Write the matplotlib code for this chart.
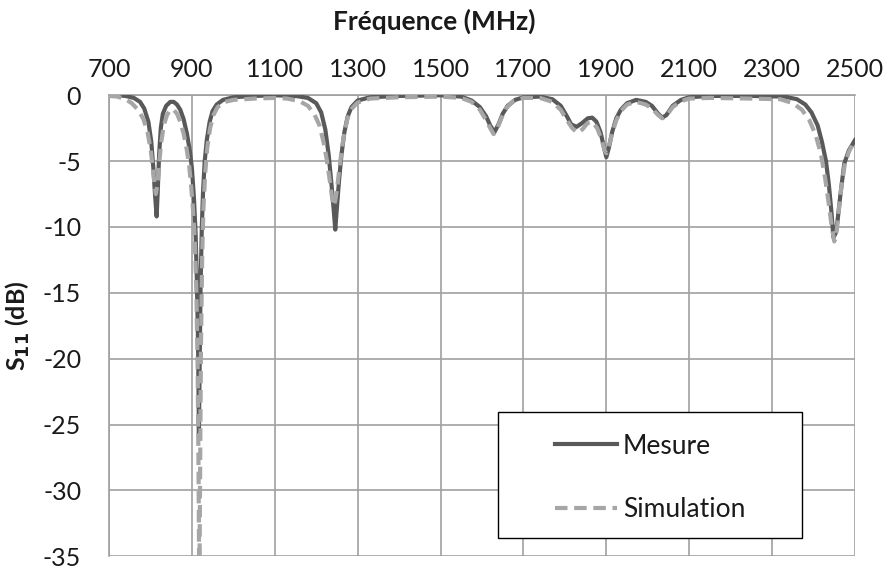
import matplotlib.pyplot as plt
from matplotlib.lines import Line2D
from matplotlib.patches import Rectangle

plt.rcParams["font.family"] = ["Lato", "DejaVu Sans"]
plt.rcParams["axes.unicode_minus"] = False

# Mesure
f_mes = [700, 720, 740, 760, 775, 785, 795, 802, 807, 811, 815, 818, 821, 825, 830,
         838, 848, 856, 864, 872, 880, 888, 895, 900, 905, 909, 912, 915, 917, 919,
         921, 924, 927, 931, 936, 943, 950, 960, 975, 1000, 1050, 1100, 1150, 1180,
         1200, 1212, 1222, 1230, 1237, 1243, 1246, 1250, 1255, 1261, 1268, 1276, 1285,
         1300, 1330, 1400, 1500, 1550, 1575, 1595, 1610, 1620, 1630, 1640, 1650, 1662,
         1680, 1700, 1740, 1770, 1790, 1805, 1815, 1828, 1842, 1855, 1866, 1876, 1886,
         1894, 1900, 1906, 1914, 1924, 1935, 1950, 1972, 1995, 2010, 2025, 2035, 2045,
         2060, 2080, 2100, 2150, 2250, 2330, 2360, 2380, 2395, 2410, 2420, 2430, 2437,
         2443, 2448, 2453, 2458, 2465, 2474, 2485, 2500]
s_mes = [0, 0, -0.05, -0.2, -0.5, -1.0, -2.0, -3.5, -5.5, -7.5, -9.2, -7.0, -4.5, -2.5, -1.4,
         -0.8, -0.5, -0.5, -0.7, -1.1, -1.8, -2.9, -4.2, -5.5, -7.8, -10.5, -14, -19, -25.8, -20,
         -14.5, -10, -7.3, -5, -3.4, -2.0, -1.2, -0.7, -0.35, -0.15, -0.05, 0, -0.05, -0.2,
         -0.6, -1.3, -2.6, -4.5, -6.8, -9.0, -10.2, -8.5, -6.5, -4.5, -2.8, -1.6, -0.9,
         -0.4, -0.15, -0.05, 0, -0.1, -0.4, -0.9, -1.6, -2.3, -2.8, -2.2, -1.4, -0.8,
         -0.35, -0.15, -0.1, -0.3, -0.8, -1.6, -2.2, -2.4, -2.1, -1.75, -1.7, -2.0, -2.8,
         -3.9, -4.7, -4.0, -2.8, -1.75, -1.1, -0.6, -0.35, -0.5, -0.8, -1.4, -1.7, -1.5,
         -0.8, -0.35, -0.15, -0.05, -0.05, -0.1, -0.3, -0.7, -1.3, -2.3, -3.5, -5.0, -6.8,
         -8.8, -10.8, -10.5, -9.5, -7.5, -5.2, -4.2, -3.4]

# Simulation
f_sim = [700, 720, 740, 755, 770, 783, 793, 800, 806, 810, 813, 817, 821, 826, 832,
         840, 848, 856, 864, 872, 880, 887, 893, 898, 903, 907, 911, 914, 916, 918,
         920, 922, 925, 928, 932, 937, 944, 952, 962, 980, 1000, 1050, 1100, 1130, 1160,
         1180, 1195, 1208, 1218, 1225, 1232, 1238, 1242, 1246, 1250, 1255, 1261, 1268,
         1276, 1286, 1300, 1330, 1400, 1500, 1550, 1575, 1595, 1610, 1620, 1628, 1636,
         1646, 1658, 1675, 1700, 1740, 1770, 1790, 1805, 1818, 1830, 1842, 1855, 1866,
         1878, 1888, 1896, 1900, 1906, 1914, 1924, 1935, 1950, 1972, 1995, 2010, 2025,
         2035, 2045, 2060, 2080, 2100, 2150, 2250, 2320, 2350, 2372, 2390, 2405, 2418,
         2428, 2437, 2444, 2450, 2455, 2460, 2467, 2475, 2485, 2500]
s_sim = [-0.05, -0.1, -0.3, -0.6, -1.1, -1.8, -2.8, -4.0, -5.5, -6.8, -7.5, -6.8, -5.2, -3.6, -2.3,
         -1.5, -1.1, -1.1, -1.4, -2.0, -2.9, -4.0, -5.2, -6.8, -8.8, -11, -15, -21, -28, -38,
         -28, -19, -12, -8.5, -6, -4, -2.5, -1.5, -0.9, -0.5, -0.35, -0.25, -0.2, -0.25, -0.45,
         -0.8, -1.4, -2.3, -3.6, -4.8, -6.3, -7.7, -8.4, -8.0, -7.2, -5.8, -4.3, -2.8,
         -1.7, -1.0, -0.55, -0.25, -0.15, -0.1, -0.2, -0.5, -1.1, -1.9, -2.5, -2.95, -2.6,
         -1.8, -1.0, -0.45, -0.2, -0.2, -0.5, -1.1, -1.9, -2.5, -2.85, -2.6, -2.1, -2.0,
         -2.5, -3.3, -4.2, -4.4, -3.9, -2.9, -1.9, -1.2, -0.7, -0.5, -0.7, -1.0, -1.5,
         -1.75, -1.55, -0.9, -0.45, -0.25, -0.2, -0.25, -0.3, -0.6, -1.1, -1.9, -3.0, -4.5,
         -6.3, -8.3, -10.0, -11.1, -10.6, -9.0, -7.0, -5.3, -4.3, -3.4]

x_ticks = list(range(700, 2501, 200))
y_ticks = list(range(0, -36, -5))

fig = plt.figure(figsize=(8.86, 5.74), dpi=100)
ax = fig.add_axes([0.123, 0.031, 0.842, 0.803])

ax.plot(f_mes, s_mes, color="#595959", lw=3, solid_joinstyle="round", zorder=3)
ax.plot(f_sim, s_sim, color="#a6a6a6", lw=3, dashes=(3, 1.6), zorder=4)

ax.set_xlim(700, 2500)
ax.set_ylim(-35, 0)
ax.set_xticks(x_ticks)
ax.set_yticks(y_ticks)
ax.xaxis.tick_top()
ax.xaxis.set_label_position("top")
ax.tick_params(length=0, labelsize=18, colors="#1a1a1a")
ax.tick_params(axis="x", pad=10)
ax.tick_params(axis="y", pad=20)
ax.grid(True, color="#a0a0a0", lw=1.2)
ax.set_axisbelow(True)
for side in ["right", "bottom"]:
    ax.spines[side].set_visible(False)
for side in ["left", "top"]:
    ax.spines[side].set_color("#a0a0a0")
    ax.spines[side].set_linewidth(1.2)

ax.set_xlabel("Fréquence (MHz)", fontsize=19, fontweight="bold", color="#1a1a1a")
ax.xaxis.set_label_coords(0.436, 1.143)
ax.set_ylabel("S$_{\\mathbf{11}}$ (dB)", fontsize=18, fontweight="bold", color="#1a1a1a")
ax.yaxis.set_label_coords(-0.103, 0.5)

# legend box
ax.add_patch(Rectangle((0.521, 0.039), 0.408, 0.273, transform=ax.transAxes,
                       facecolor="white", edgecolor="black", lw=1.0, zorder=5))
handles = [Line2D([], [], color="#595959", lw=3),
           Line2D([], [], color="#a6a6a6", lw=3, dashes=(3, 1.6))]
leg = ax.legend(handles, ["Mesure", "Simulation"], loc="center",
                bbox_to_anchor=(0.725, 0.170), frameon=False,
                fontsize=19, handlelength=2.35, handletextpad=0.23,
                labelspacing=1.45, borderpad=0, borderaxespad=0)
leg.set_zorder(6)
for t in leg.get_texts():
    t.set_color("#1a1a1a")

fig.savefig("out.png", dpi=100)
